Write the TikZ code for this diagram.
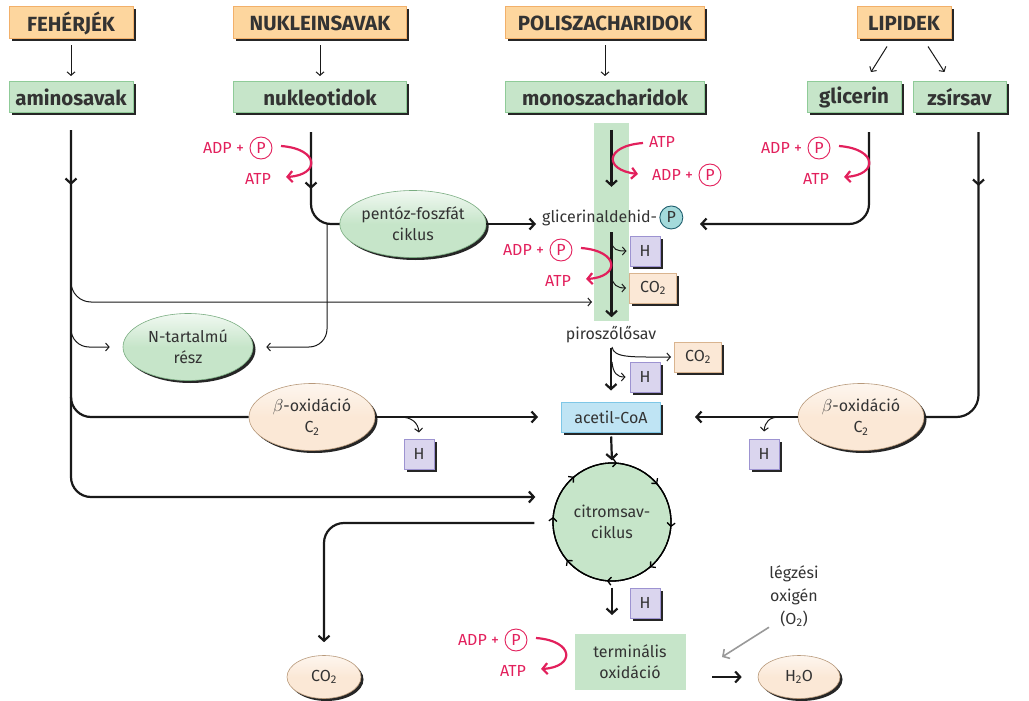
\documentclass[tikz,border=0pt]{standalone}
\usepackage{fontspec}
\setmainfont{Fira Sans}
\usetikzlibrary{positioning,shapes.geometric,shadows,decorations.markings,arrows.meta}

\definecolor{ink}{HTML}{333333}
\definecolor{srcfill}{HTML}{FDD69E}
\definecolor{srcline}{HTML}{F2B06A}
\definecolor{prodfill}{HTML}{C6E5C9}
\definecolor{prodline}{HTML}{8FCB98}
\definecolor{hfill}{HTML}{DAD5EE}
\definecolor{hline}{HTML}{9D93D1}
\definecolor{cofill}{HTML}{FBE8D6}
\definecolor{coline}{HTML}{D9B48F}
\definecolor{acfill}{HTML}{BFE4F4}
\definecolor{acline}{HTML}{7EC7E7}
\definecolor{energy}{HTML}{E2205C}
\definecolor{pfill}{HTML}{A4DADB}
\definecolor{pline}{HTML}{1F5E6E}

\begin{document}
\begin{tikzpicture}[x=1pt,y=-1pt,
    every node/.style={text=ink,font=\fontsize{16}{21}\selectfont},
    main/.style={line width=2.2pt,draw=black!90,>={Straight Barb[length=5pt,width=11pt]}},
    fine/.style={line width=1pt,draw=black!90,>={Straight Barb[length=3.5pt,width=8pt]}},
    en/.style={text=energy},
    enarr/.style={line width=2.2pt,draw=energy,->,>={Straight Barb[length=5pt,width=11pt]}},
    pcirc/.style={circle,draw=energy,line width=.9pt,text=energy,inner sep=0pt,minimum size=22},
    tealp/.style={circle,draw=pline,fill=pfill,line width=.9pt,inner sep=0pt,minimum size=23},
    shade/.style={drop shadow={shadow xshift=2.5pt,shadow yshift=-2.5pt,fill=black!85,opacity=1}},
    source/.style={shade,draw=srcline,fill=srcfill,line width=1pt,minimum height=32,
        font=\fontsize{20.5}{22}\selectfont\bfseries},
    product/.style={source,draw=prodline,fill=prodfill,minimum height=31},
    hbox/.style={shade,draw=hline,fill=hfill,line width=1pt,minimum width=30,minimum height=30,inner sep=0pt},
    cobox/.style={hbox,draw=coline,fill=cofill,minimum width=47},
    greenblob/.style={ellipse,shade,draw=prodline!85!black,line width=.6pt,top color=prodfill!25!white,
        bottom color=prodfill,middle color=prodfill,align=center,inner sep=0pt,minimum width=130,minimum height=67},
    peachblob/.style={greenblob,draw=coline!85!black,top color=cofill!40!white,bottom color=cofill,middle color=cofill},
    midarr/.style={postaction={decorate,decoration={markings,mark=at position #1 with {\arrow{>}}}}},
    cycarr/.style={>={Straight Barb[length=3.5pt,width=8pt]},postaction={decorate,decoration={markings,
        mark=between positions 0.014 and 1 step 0.125 with {\arrow{>}}}}}
  ]
  \useasboundingbox (0,0) rectangle (1029,701);

  % glycolysis band
  \node[fill=prodfill,minimum width=35,minimum height=198,inner sep=0pt] (band) at (611.5,222) {};

  % sources and building blocks
  \node[source,minimum width=124] (feherjek) at (71,23) {FEHÉRJÉK};
  \node[source,minimum width=173] (nukleinsav) at (320,23) {NUKLEINSAVAK};
  \node[source,minimum width=199] (poliszach) at (605,23) {POLISZACHARIDOK};
  \node[source,minimum width=94] (lipidek) at (904,23) {LIPIDEK};

  \node[product,minimum width=124] (aminosav) at (71,97) {aminosavak};
  \node[product,minimum width=173] (nukleotid) at (320,97) {nukleotidok};
  \node[product,minimum width=199] (monoszach) at (605,97) {monoszacharidok};
  \node[product,minimum width=94] (glicerin) at (854,97) {glicerin};
  \node[product,minimum width=93] (zsirsav) at (959.5,97) {zsírsav};

  \foreach \a/\b in {feherjek/aminosav,nukleinsav/nukleotid,poliszach/monoszach}
    \draw[fine,->,shorten <=6pt,shorten >=5pt] (\a) -- (\b);
  \draw[fine,->] ([shift={(-17,7)}]lipidek.south) -- ([shift={(17,-9)}]glicerin.north);
  \draw[fine,->] ([shift={(24,7)}]lipidek.south) -- ([shift={(-15,-9)}]zsirsav.north);

  % intermediates
  \node[greenblob] (pentoz) at (413,224) {pentóz-foszfát\\ciklus};
  \node[greenblob] (ntart) at (188,347) {N-tartalmú\\rész};
  \node[peachblob,minimum width=126] (betaL) at (312,417) {$\beta$-oxidáció\\C\textsubscript{2}};
  \node[peachblob,minimum width=126] (betaR) at (861,417) {$\beta$-oxidáció\\C\textsubscript{2}};

  \node[anchor=base west,inner xsep=0pt] (glald) at (542,222) {glicerinaldehid-};
  \node[tealp,right=2pt of glald] (glP) {P};
  \node (piro) at (611,335) {piroszőlősav};
  \node[shade,draw=acline,fill=acfill,line width=1pt,minimum width=99,minimum height=30] (acetil) at (611,417) {acetil-CoA};
  \node[circle,draw=black,line width=1.3pt,fill=prodfill,minimum size=118,align=center] (citrom) at (612,522) {citromsav-\\ciklus};
  \node[fill=prodfill,minimum width=111,minimum height=56,align=center] (term) at (630,662) {terminális\\oxidáció};
  \node[peachblob,minimum width=74,minimum height=43] (co2) at (324,677) {CO\textsubscript{2}};
  \node[peachblob,minimum width=82,minimum height=43] (h2o) at (799,677) {H\textsubscript{2}O};
  \node[align=center,font=\fontsize{16}{23}\selectfont] (o2) at (794,596) {légzési\\oxigén\\(O\textsubscript{2})};

  \node[hbox] (hG) at (645,251) {H};
  \node[cobox] (coG) at (653,288) {CO\textsubscript{2}};
  \node[cobox] (coP) at (698,357) {CO\textsubscript{2}};
  \node[hbox] (hP) at (645,377) {H};
  \node[hbox] (hL) at (419,454) {H};
  \node[hbox] (hR) at (764,454) {H};
  \node[hbox] (hC) at (645,603) {H};

  % branch points and free ends
  \coordinate (am1) at (71,282);
  \coordinate (am2) at (71,326);
  \coordinate (am3) at (71,397);
  \coordinate (pyrin) at (592,302);
  \coordinate (pp) at (327,224);
  \coordinate (glin) at (700,224);
  \coordinate (gH) at (611,241);
  \coordinate (gC) at (611,276);
  \coordinate (pC) at (612,347);
  \coordinate (pH) at (612,362);
  \coordinate (bL) at (400,417);
  \coordinate (bR) at (780,417);
  \coordinate (tin) at (612,615);
  \coordinate (tout) at (712,677);
  \coordinate (oin) at (722,657);

  % amino acids
  \draw[main,->,midarr=55pt,rounded corners=20] ([shift={(0,17)}]aminosav.south) |- ([shift={(-17,-25)}]citrom.west);
  \draw[fine,->,rounded corners=20] (am1) |- (pyrin);
  \draw[fine,->,rounded corners=18] (am2) |- ([xshift=-13pt]ntart.west);
  \draw[main,rounded corners=20] (am3) |- (betaL.west);
  \draw[main,->] (betaL.east) -- ([xshift=-23pt]acetil.west);
  \draw[fine,->] (bL) .. controls (412,417) and (418,423) .. ([yshift=6pt]hL.north);

  % nucleotides
  \draw[main,midarr=57pt,rounded corners=20] ([shift={(-9,19)}]nukleotid.south) |- (pentoz.west);
  \draw[fine,->,rounded corners=18] (pp) |- ([xshift=13pt]ntart.east);
  \draw[main,->,shorten >=6pt] (pentoz.east) -- (pentoz.east -| glald.west);

  % glycerol and fatty acids
  \draw[main,->,rounded corners=20] ([shift={(15,19)}]glicerin.south) |- (glin);
  \draw[main,midarr=54pt,rounded corners=22] ([shift={(19,19)}]zsirsav.south) |- (betaR.east);
  \draw[main,->] (betaR.west) -- ([xshift=34pt]acetil.east);
  \draw[fine,->] (bR) .. controls (769,417) and (765,422) .. ([yshift=7pt]hR.north);

  % glycolysis
  \draw[main,->] ([shift={(0,7)}]band.north) -- ++(0,57);
  \draw[main,->] ([shift={(0,-89)}]band.south) -- ([shift={(0,-4)}]band.south);
  \draw[fine,->] (gH) .. controls (613,250) and (617,251) .. ([xshift=-3pt]hG.west);
  \draw[fine,->] (gC) .. controls (613,285) and (617,288) .. ([xshift=-3pt]coG.west);

  \draw[main,->,shorten <=1pt,shorten >=11pt] (piro.south) -- (acetil.north);
  \draw[fine,->] (pC) .. controls (614,358) and (630,357) .. ([xshift=-3pt]coP.west);
  \draw[fine,->] (pH) .. controls (613,373) and (617,377) .. ([xshift=-4pt]hP.west);

  % citric acid cycle
  \draw[main,->,shorten <=4pt,shorten >=2pt] (acetil.south) -- (citrom.north);
  \draw[line width=1.3pt,cycarr] (citrom.center) circle (59);
  \draw[main,->,rounded corners=20] ([shift={(-18,1)}]citrom.west) -| ([yshift=13pt]co2.north);
  \draw[main,->,shorten <=6pt] (citrom.south) -- (tin);
  \draw[main,->] (tout) -- ([xshift=-16pt]h2o.west);
  \draw[main,line width=1.6pt,draw=black!40,->] ([shift={(-25,-3)}]o2.south) -- (oin);

  % ATP / ADP
  \foreach \lx/\ly/\i in {311/148/1,869/148/2,611/250/3,566/640/4}{
    \node[pcirc] (p\i) at (\lx-50,\ly) {P};
    \node[en,left=2pt of p\i] (adp\i) {ADP +};
    \node[en] (atp\i) at (\lx-53,\ly+31) {ATP};
    \draw[enarr] (\lx-30,\ly-2) .. controls (\lx+9,\ly+1) and (\lx+9,\ly+27) .. (\lx-25,\ly+29);
  }
  \node[en] (atp5) at (662,142) {ATP};
  \node[pcirc] (p5) at (710,175) {P};
  \node[en,left=2pt of p5] (adp5) {ADP +};
  \draw[enarr] (643,143) .. controls (604,146) and (604,170) .. (638,174);
\end{tikzpicture}
\end{document}
